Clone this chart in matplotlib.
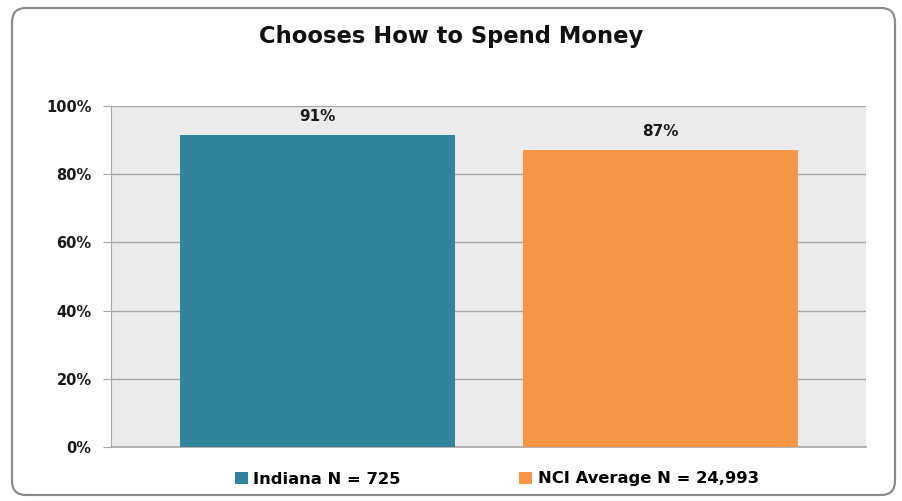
import matplotlib
matplotlib.use("Agg")
import matplotlib.pyplot as plt
from matplotlib.patches import FancyBboxPatch, Patch
from matplotlib.transforms import IdentityTransform

series = ["Indiana N = 725", "NCI Average N = 24,993"]
values = [91.4, 87.1]
colors = ["#31849B", "#F79646"]
yticks = [0, 20, 40, 60, 80, 100]

fig = plt.figure(figsize=(9.03, 5.01), dpi=100)
ax = fig.add_axes([111 / 903, 54 / 501, 755 / 903, 341 / 501])

# rounded outer frame, in pixels
frame = FancyBboxPatch((12, 6), 883, 487, boxstyle="round,pad=0,rounding_size=14",
                       transform=IdentityTransform(), facecolor="none",
                       edgecolor="#8C8C8C", linewidth=1.6)
fig.add_artist(frame)

ax.set_facecolor("#EBEBEB")
x = [0, 1]
bars = ax.bar(x, values, width=0.802, color=colors, zorder=3)
for b, v in zip(bars, values):
    ax.annotate(f"{round(v)}%", (b.get_x() + b.get_width() / 2, v),
                xytext=(0, 8), textcoords="offset points", ha="center",
                va="bottom", fontsize=11, fontweight="bold", color="#1A1A1A")

ax.set_xlim(-0.602, 1.599)
ax.set_ylim(0, 100)
ax.set_yticks(yticks)
ax.set_yticklabels([f"{t}%" for t in yticks], fontsize=10.5, fontweight="bold",
                   color="#1A1A1A")
ax.set_xticks([])
ax.grid(axis="y", color="#A6A6A6", linewidth=1.0, zorder=1)
ax.tick_params(axis="y", length=6, color="#A6A6A6", pad=8)
for s in ["top", "right"]:
    ax.spines[s].set_visible(False)
ax.spines["left"].set_color("#A6A6A6")
ax.spines["bottom"].set_color("#A6A6A6")
ax.spines["bottom"].set_linewidth(1.2)

fig.text(0.5, 1 - 36 / 501, "Chooses How to Spend Money", ha="center",
         va="center", fontsize=16.3, fontweight="bold", color="#111111")

handles = [Patch(facecolor=c, edgecolor="none") for c in colors]
fig.legend(handles, series, loc="center", bbox_to_anchor=(0.55, 1 - 479 / 501),
           ncol=2, frameon=False, handlelength=0.8, handleheight=0.8,
           handletextpad=0.35, columnspacing=7.2,
           prop={"size": 11.8, "weight": "bold"})

fig.savefig("out.png", dpi=100)
